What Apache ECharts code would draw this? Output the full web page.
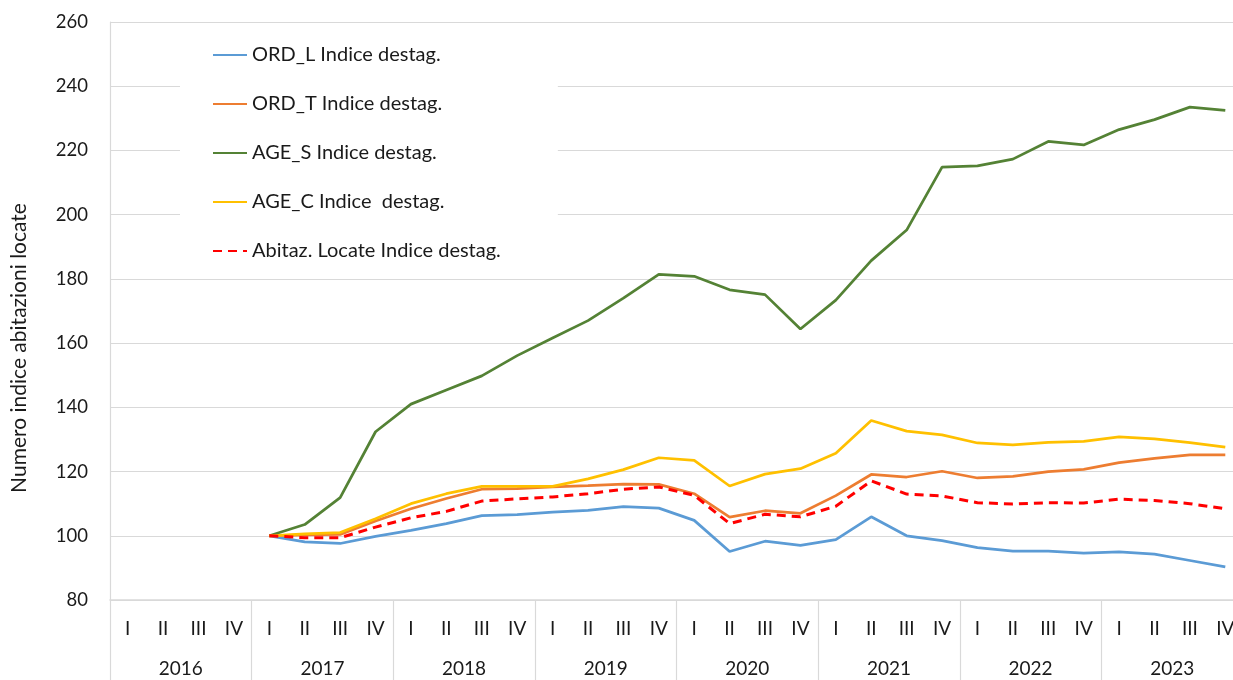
<!DOCTYPE html>
<html>
<head>
<meta charset="utf-8">
<script src="https://cdn.jsdelivr.net/npm/echarts@6/dist/echarts.min.js"></script>
<style>html,body{margin:0;padding:0;background:#fff;overflow:hidden}#c{width:1243px;height:680px}</style>
</head>
<body>
<div id="c"></div>
<script>
var quarters = ['I','II','III','IV','I','II','III','IV','I','II','III','IV','I','II','III','IV','I','II','III','IV','I','II','III','IV','I','II','III','IV','I','II','III','IV'];
var years = ['2016','2017','2018','2019','2020','2021','2022','2023'];
var yTicks = [80, 100, 120, 140, 160, 180, 200, 220, 240, 260];

var ordL = [null,null,null,null, 100,98.1,97.6,99.8, 101.7,103.8,106.3,106.6, 107.4,107.9,109.1,108.6, 104.8,95.1,98.3,97.0, 98.8,105.9,100.0,98.5, 96.3,95.2,95.2,94.6, 95.0,94.3,92.3,90.3];
var ordT = [null,null,null,null, 100,100.3,100.4,104.6, 108.4,111.6,114.5,114.7, 115.2,115.6,116.1,116.0, 113.1,105.8,107.8,107.0, 112.5,119.1,118.3,120.1, 118.0,118.5,120.0,120.7, 122.8,124.1,125.2,125.2];
var ageS = [null,null,null,null, 100,103.5,111.9,132.4, 141.0,145.4,149.8,156.1, 161.6,167.0,174.0,181.4, 180.8,176.6,175.1,164.4, 173.4,185.7,195.2,214.8, 215.2,217.3,222.8,221.7, 226.5,229.6,233.5,232.5];
var ageC = [null,null,null,null, 100,100.6,101.0,105.3, 110.0,113.1,115.4,115.4, 115.4,117.7,120.6,124.3, 123.5,115.5,119.2,120.9, 125.7,135.9,132.6,131.4, 128.9,128.3,129.1,129.4, 130.8,130.2,129.0,127.6];
var abit = [null,null,null,null, 100,99.4,99.4,102.7, 105.6,107.6,110.8,111.5, 112.1,113.1,114.5,115.2, 112.6,103.8,106.7,105.9, 109.2,117.1,113.0,112.4, 110.3,109.9,110.3,110.2, 111.4,111.0,110.0,108.4];

var names = ['ORD_L Indice destag.', 'ORD_T Indice destag.', 'AGE_S Indice destag.', 'AGE_C Indice  destag.', 'Abitaz. Locate Indice destag.'];
var colors = ['#5B9BD5', '#ED7D31', '#548235', '#FFC000', '#FF0000'];
var values = [ordL, ordT, ageS, ageC, abit];

var FONT = 'Lato';
var TXT = '#1a1a1a';
var chart = echarts.init(document.getElementById('c'), null, {renderer: 'canvas'});
var series = values.map(function (v, i) {
  return {
    name: names[i],
    type: 'line',
    xAxisIndex: 0,
    data: v,
    symbol: 'none',
    showSymbol: false,
    connectNulls: false,
    color: colors[i],
    lineStyle: {color: colors[i], width: i === 4 ? 3 : 2.75, type: i === 4 ? [9, 6] : 'solid'},
    z: i === 4 ? 5 : 2
  };
});

chart.setOption({
  animation: false,
  backgroundColor: '#fff',
  textStyle: {fontFamily: FONT},
  grid: {left: 110, right: 0, top: 22, bottom: 80, containLabel: false},
  legend: {
    orient: 'vertical',
    left: 180,
    top: 36,
    icon: 'inherit',
    data: names,
    backgroundColor: '#fff',
    padding: [8, 57, 10, 32],
    itemWidth: 34,
    itemHeight: 4,
    itemGap: 27,
    itemStyle: {opacity: 0},
    textStyle: {fontFamily: FONT, fontSize: 20, color: TXT, lineHeight: 22}
  },
  xAxis: [
    {
      type: 'category',
      position: 'bottom',
      data: quarters,
      boundaryGap: true,
      axisLine: {show: true, lineStyle: {color: '#d9d9d9', width: 1.5}},
      axisTick: {show: false},
      axisLabel: {interval: 0, margin: 19, fontFamily: FONT, fontSize: 19, color: TXT},
      splitLine: {show: false}
    },
    {
      type: 'category',
      position: 'bottom',
      data: years,
      boundaryGap: true,
      axisLine: {show: false},
      axisTick: {show: true, interval: 0, length: 80, lineStyle: {color: '#d9d9d9', width: 1.2}},
      axisLabel: {interval: 0, margin: 59, fontFamily: FONT, fontSize: 19, color: TXT},
      splitLine: {show: false}
    }
  ],
  yAxis: {
    type: 'value',
    min: yTicks[0],
    max: yTicks[yTicks.length - 1],
    interval: 20,
    name: 'Numero indice abitazioni locate',
    nameLocation: 'middle',
    nameGap: 80,
    nameTextStyle: {fontFamily: FONT, fontSize: 21, color: TXT, padding: [0, 74, 0, 0]},
    axisLine: {show: true, lineStyle: {color: '#d9d9d9', width: 1.2}},
    axisTick: {show: false},
    axisLabel: {margin: 22, fontFamily: FONT, fontSize: 18.5, color: TXT},
    splitLine: {show: true, lineStyle: {color: '#d9d9d9', width: 1.2}}
  },
  series: series
});
</script>
</body>
</html>
